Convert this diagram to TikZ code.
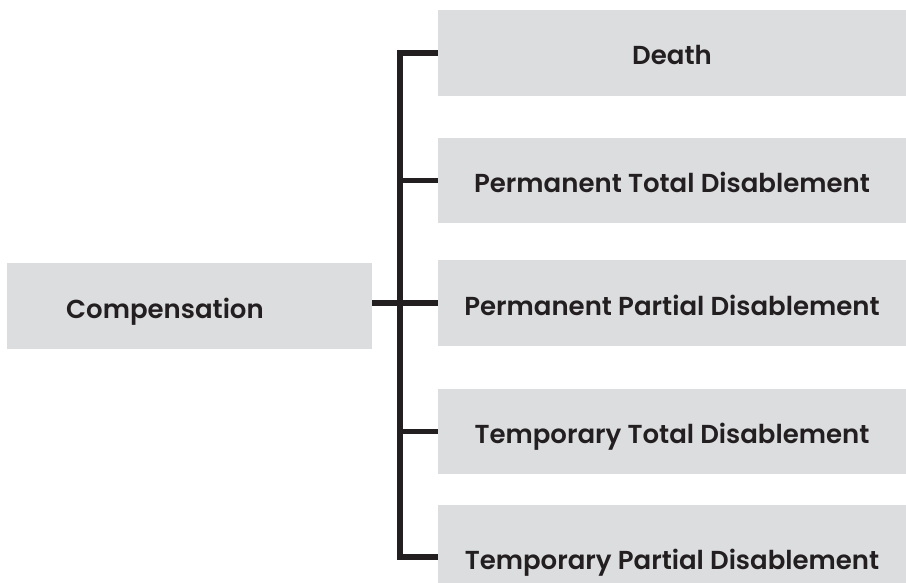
\documentclass[tikz,border=0pt]{standalone}
\usepackage{fontspec}
\setmainfont{Poppins}[BoldFont={Poppins SemiBold}]
\definecolor{boxgray}{HTML}{DCDDDF}
\definecolor{ink}{HTML}{231F20}
\begin{document}
\begin{tikzpicture}[x=1pt,y=-1pt,
  lbl/.style={font=\bfseries\fontsize{26}{30}\selectfont,text=ink,text height=28pt,text depth=4pt},
  box/.style={lbl,fill=boxgray,draw=none,inner sep=0pt,minimum width=468pt,minimum height=86pt},
  link/.style={draw=ink,line width=5.5pt,line join=miter,line cap=butt}]
  \clip (0,0) rectangle (906,583);
  \useasboundingbox (0,0) rectangle (906,583);
  % root
  \node[box,minimum width=365pt] (comp) at (189.5,306) {};
  \node[lbl,inner sep=0pt] (comptext) at (165,306) {Compensation};
  % branches
  \node[box] (death) at (672,53) {Death};
  \node[box,minimum height=85pt] (ptd) at (672,180.5) {Permanent Total Disablement};
  \node[box] (ppd) at (672,303) {Permanent Partial Disablement};
  \node[box,minimum height=85pt] (ttd) at (672,431.5) {Temporary Total Disablement};
  \node[box,minimum height=104pt] (tpd) at (672,557) {Temporary Partial Disablement};
  % connectors
  \coordinate (trunk) at (400,303);
  \draw[link] (death.west) -| (trunk) |- (tpd.west);
  \draw[link] (comp.east |- ppd.west) -- (ppd.west);
  \draw[link] (ptd.west) -- (ptd.west -| trunk);
  \draw[link] (ttd.west) -- (ttd.west -| trunk);
\end{tikzpicture}
\end{document}
